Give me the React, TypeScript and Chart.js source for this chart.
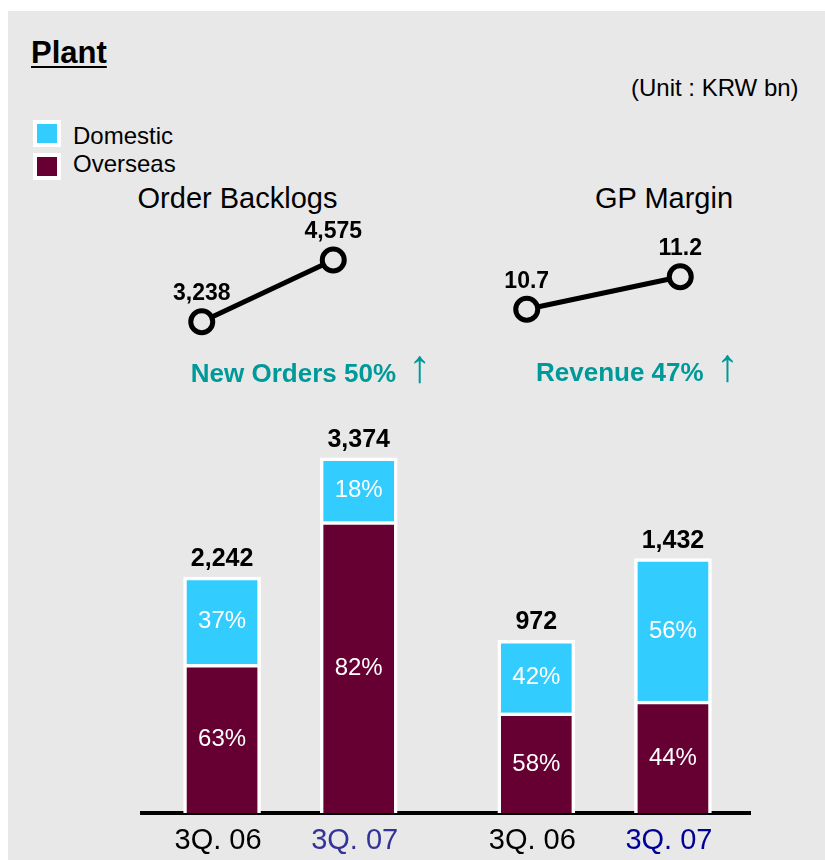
import React, { useEffect, useRef } from "react";
import { Chart, registerables } from "chart.js";

Chart.register(...registerables);

const FONT = '"Liberation Sans", Arial, Helvetica, sans-serif';
const PANEL_BG = "#e8e8e8";
const DOMESTIC_COLOR = "#33ccff";
const OVERSEAS_COLOR = "#660033";
const TEAL = "#009999";

// ---- data ----
const seriesNames = ["Domestic", "Overseas"];
const seriesColors = [DOMESTIC_COLOR, OVERSEAS_COLOR];

const periods = ["3Q. 06", "3Q. 07"];
const orderBacklogs = [3238, 4575];
const gpMargin = [10.7, 11.2];

const barLabels = ["3Q. 06", "3Q. 07", "3Q. 06", "3Q. 07"];
const barLabelColors = ["#000000", "#333399", "#000000", "#000099"];
const barGroup = [0, 0, 1, 1]; // 0 = order backlog bars, 1 = revenue bars
const barTotals = [2242, 3374, 972, 1432];
const domesticValues = [830, 607, 408, 802];
const overseasValues = [1412, 2767, 564, 630];
const domesticShare = [37, 18, 42, 56];
const overseasShare = [63, 82, 58, 44];

// ---- layout helpers ----
const GROUP_GAP = 0.3;
const barX = barLabels.map((_, i) => i + barGroup[i] * GROUP_GAP);
const groupAxis = ["yB", "yR"];

function buildBarDatasets() {
  const out: any[] = [];
  [0, 1].forEach((g) => {
    const idx = barLabels.map((_, i) => i).filter((i) => barGroup[i] === g);
    out.push({
      label: seriesNames[1],
      kind: "overseas",
      srcIndex: idx,
      yAxisID: groupAxis[g],
      data: idx.map((i) => ({ x: barX[i], y: overseasValues[i] })),
      backgroundColor: OVERSEAS_COLOR,
      borderColor: "#ffffff",
      borderWidth: 3.5,
      barThickness: 77,
    });
    out.push({
      label: seriesNames[0],
      kind: "domestic",
      srcIndex: idx,
      yAxisID: groupAxis[g],
      data: idx.map((i) => ({ x: barX[i], y: domesticValues[i] })),
      backgroundColor: DOMESTIC_COLOR,
      borderColor: "#ffffff",
      borderWidth: 3.5,
      barThickness: 77,
    });
  });
  return out;
}

const fmt = (v: number) => v.toLocaleString("en-US");

const barLabelPlugin = {
  id: "barLabels",
  afterDatasetsDraw(chart: any) {
    const ctx = chart.ctx;
    ctx.save();
    ctx.textAlign = "center";
    ctx.textBaseline = "middle";
    chart.data.datasets.forEach((ds: any, di: number) => {
      const meta = chart.getDatasetMeta(di);
      meta.data.forEach((el: any, j: number) => {
        const i = ds.srcIndex[j];
        const { x, y, base } = el.getProps(["x", "y", "base"], true);
        const share = ds.kind === "domestic" ? domesticShare[i] : overseasShare[i];
        ctx.fillStyle = "#ffffff";
        ctx.font = `24px ${FONT}`;
        ctx.fillText(share + "%", x, (y + base) / 2 + 1);
        if (ds.kind === "domestic") {
          ctx.fillStyle = "#000000";
          ctx.font = `bold 25px ${FONT}`;
          ctx.fillText(fmt(barTotals[i]), x, y - 18);
        }
      });
    });
    ctx.restore();
  },
};

const pointLabelPlugin = {
  id: "pointLabels",
  afterDatasetsDraw(chart: any) {
    const ctx = chart.ctx;
    ctx.save();
    ctx.textAlign = "center";
    ctx.textBaseline = "middle";
    ctx.fillStyle = "#000000";
    ctx.font = `bold 23px ${FONT}`;
    chart.data.datasets.forEach((ds: any, di: number) => {
      const meta = chart.getDatasetMeta(di);
      meta.data.forEach((el: any, j: number) => {
        const { x, y } = el.getProps(["x", "y"], true);
        ctx.fillText(fmt(ds.data[j]), x, y - 28);
      });
    });
    ctx.restore();
  },
};

function BarChart() {
  const ref = useRef<HTMLCanvasElement>(null);
  useEffect(() => {
    const chart = new Chart(ref.current!, {
      type: "bar",
      data: { datasets: buildBarDatasets() },
      plugins: [barLabelPlugin],
      options: {
        responsive: false,
        animation: false,
        layout: { autoPadding: false, padding: { left: 12, right: 12, top: 0, bottom: 1 } },
        plugins: { legend: { display: false }, tooltip: { enabled: false } },
        scales: {
          x: {
            type: "linear",
            min: -0.586,
            max: 3.864,
            offset: false,
            stacked: true,
            z: 1,
            grid: { display: false, drawTicks: false },
            border: { display: true, color: "#000000", width: 4 },
            afterBuildTicks: (scale: any) => {
              scale.ticks = barX.map((v) => ({ value: v }));
            },
            ticks: {
              autoSkip: false,
              maxRotation: 0,
              padding: 10.6,
              labelOffset: -4,
              font: { size: 29, family: FONT },
              color: (c: any) => barLabelColors[c.index] || "#000",
              callback: (_v: any, i: number) => barLabels[i],
            },
          },
          yB: { type: "linear", display: false, stacked: true, min: 0, max: 3828 },
          yR: { type: "linear", display: false, stacked: true, min: 0, max: 2269 },
        },
      } as any,
    });
    return () => chart.destroy();
  }, []);
  return (
    <canvas
      ref={ref}
      width={632}
      height={460}
      style={{ position: "absolute", left: 122, top: 399, display: "block" }}
    />
  );
}

function LineMini(props: { values: number[]; min: number; max: number; left: number; width: number }) {
  const ref = useRef<HTMLCanvasElement>(null);
  useEffect(() => {
    const chart = new Chart(ref.current!, {
      type: "line",
      data: {
        labels: periods,
        datasets: [
          {
            data: props.values,
            borderColor: "#000000",
            borderWidth: 5,
            pointRadius: 11,
            pointBorderWidth: 5,
            pointBorderColor: "#000000",
            pointBackgroundColor: PANEL_BG,
            tension: 0,
            clip: false,
          } as any,
        ],
      },
      plugins: [pointLabelPlugin],
      options: {
        responsive: false,
        animation: false,
        layout: { autoPadding: false, padding: 0 },
        plugins: { legend: { display: false }, tooltip: { enabled: false } },
        scales: {
          x: { type: "category", display: false, offset: true },
          y: { type: "linear", display: false, min: props.min, max: props.max },
        },
      } as any,
    });
    return () => chart.destroy();
  }, []);
  return (
    <canvas
      ref={ref}
      width={props.width}
      height={125}
      style={{ position: "absolute", left: props.left, top: 209, display: "block" }}
    />
  );
}

const textBase: React.CSSProperties = {
  position: "absolute",
  fontFamily: FONT,
  lineHeight: 1,
  whiteSpace: "nowrap",
  color: "#000",
};

const arrowStyle: React.CSSProperties = {
  fontWeight: "normal",
  fontSize: 46,
  lineHeight: 0,
  display: "inline-block",
};

export default function App() {
  return (
    <div>
      <div
        style={{
          position: "fixed",
          left: 8,
          top: 11,
          right: 0,
          bottom: 0,
          background: PANEL_BG,
          overflow: "hidden",
        }}
      >
        <div
          style={{
            ...textBase,
            left: 23,
            top: 26,
            fontSize: 31,
            fontWeight: "bold",
            textDecoration: "underline",
            textDecorationThickness: "2px",
            textUnderlineOffset: "3px",
          }}
        >
          Plant
        </div>
        <div style={{ ...textBase, left: 623, top: 64.5, fontSize: 24 }}>(Unit : KRW bn)</div>

        {seriesNames.map((name, i) => (
          <React.Fragment key={name}>
            <div
              style={{
                position: "absolute",
                left: 25,
                top: i === 0 ? 109 : 142,
                width: 20,
                height: 19,
                border: "4px solid #ffffff",
                background: seriesColors[i],
              }}
            />
            <div style={{ ...textBase, left: 65, top: i === 0 ? 112.8 : 141, fontSize: 24 }}>{name}</div>
          </React.Fragment>
        ))}

        <div style={{ ...textBase, left: 229.5 - 150, width: 300, textAlign: "center", top: 173, fontSize: 29 }}>
          Order Backlogs
        </div>
        <div style={{ ...textBase, left: 656 - 150, width: 300, textAlign: "center", top: 173, fontSize: 29 }}>
          GP Margin
        </div>

        <LineMini values={orderBacklogs} min={2733} max={5442} left={128} width={263} />
        <LineMini values={gpMargin} min={10.1525} max={12.07} left={442} width={307} />

        <div style={{ ...textBase, left: 182.8, top: 349.3, fontSize: 26, fontWeight: "bold", color: TEAL }}>
          New Orders 50%<span style={{ ...arrowStyle, marginLeft: 12 }}>↑</span>
        </div>
        <div style={{ ...textBase, left: 528, top: 347.5, fontSize: 26, fontWeight: "bold", color: TEAL }}>
          Revenue 47%<span style={{ ...arrowStyle, marginLeft: 12 }}>↑</span>
        </div>

        <BarChart />
      </div>
    </div>
  );
}
